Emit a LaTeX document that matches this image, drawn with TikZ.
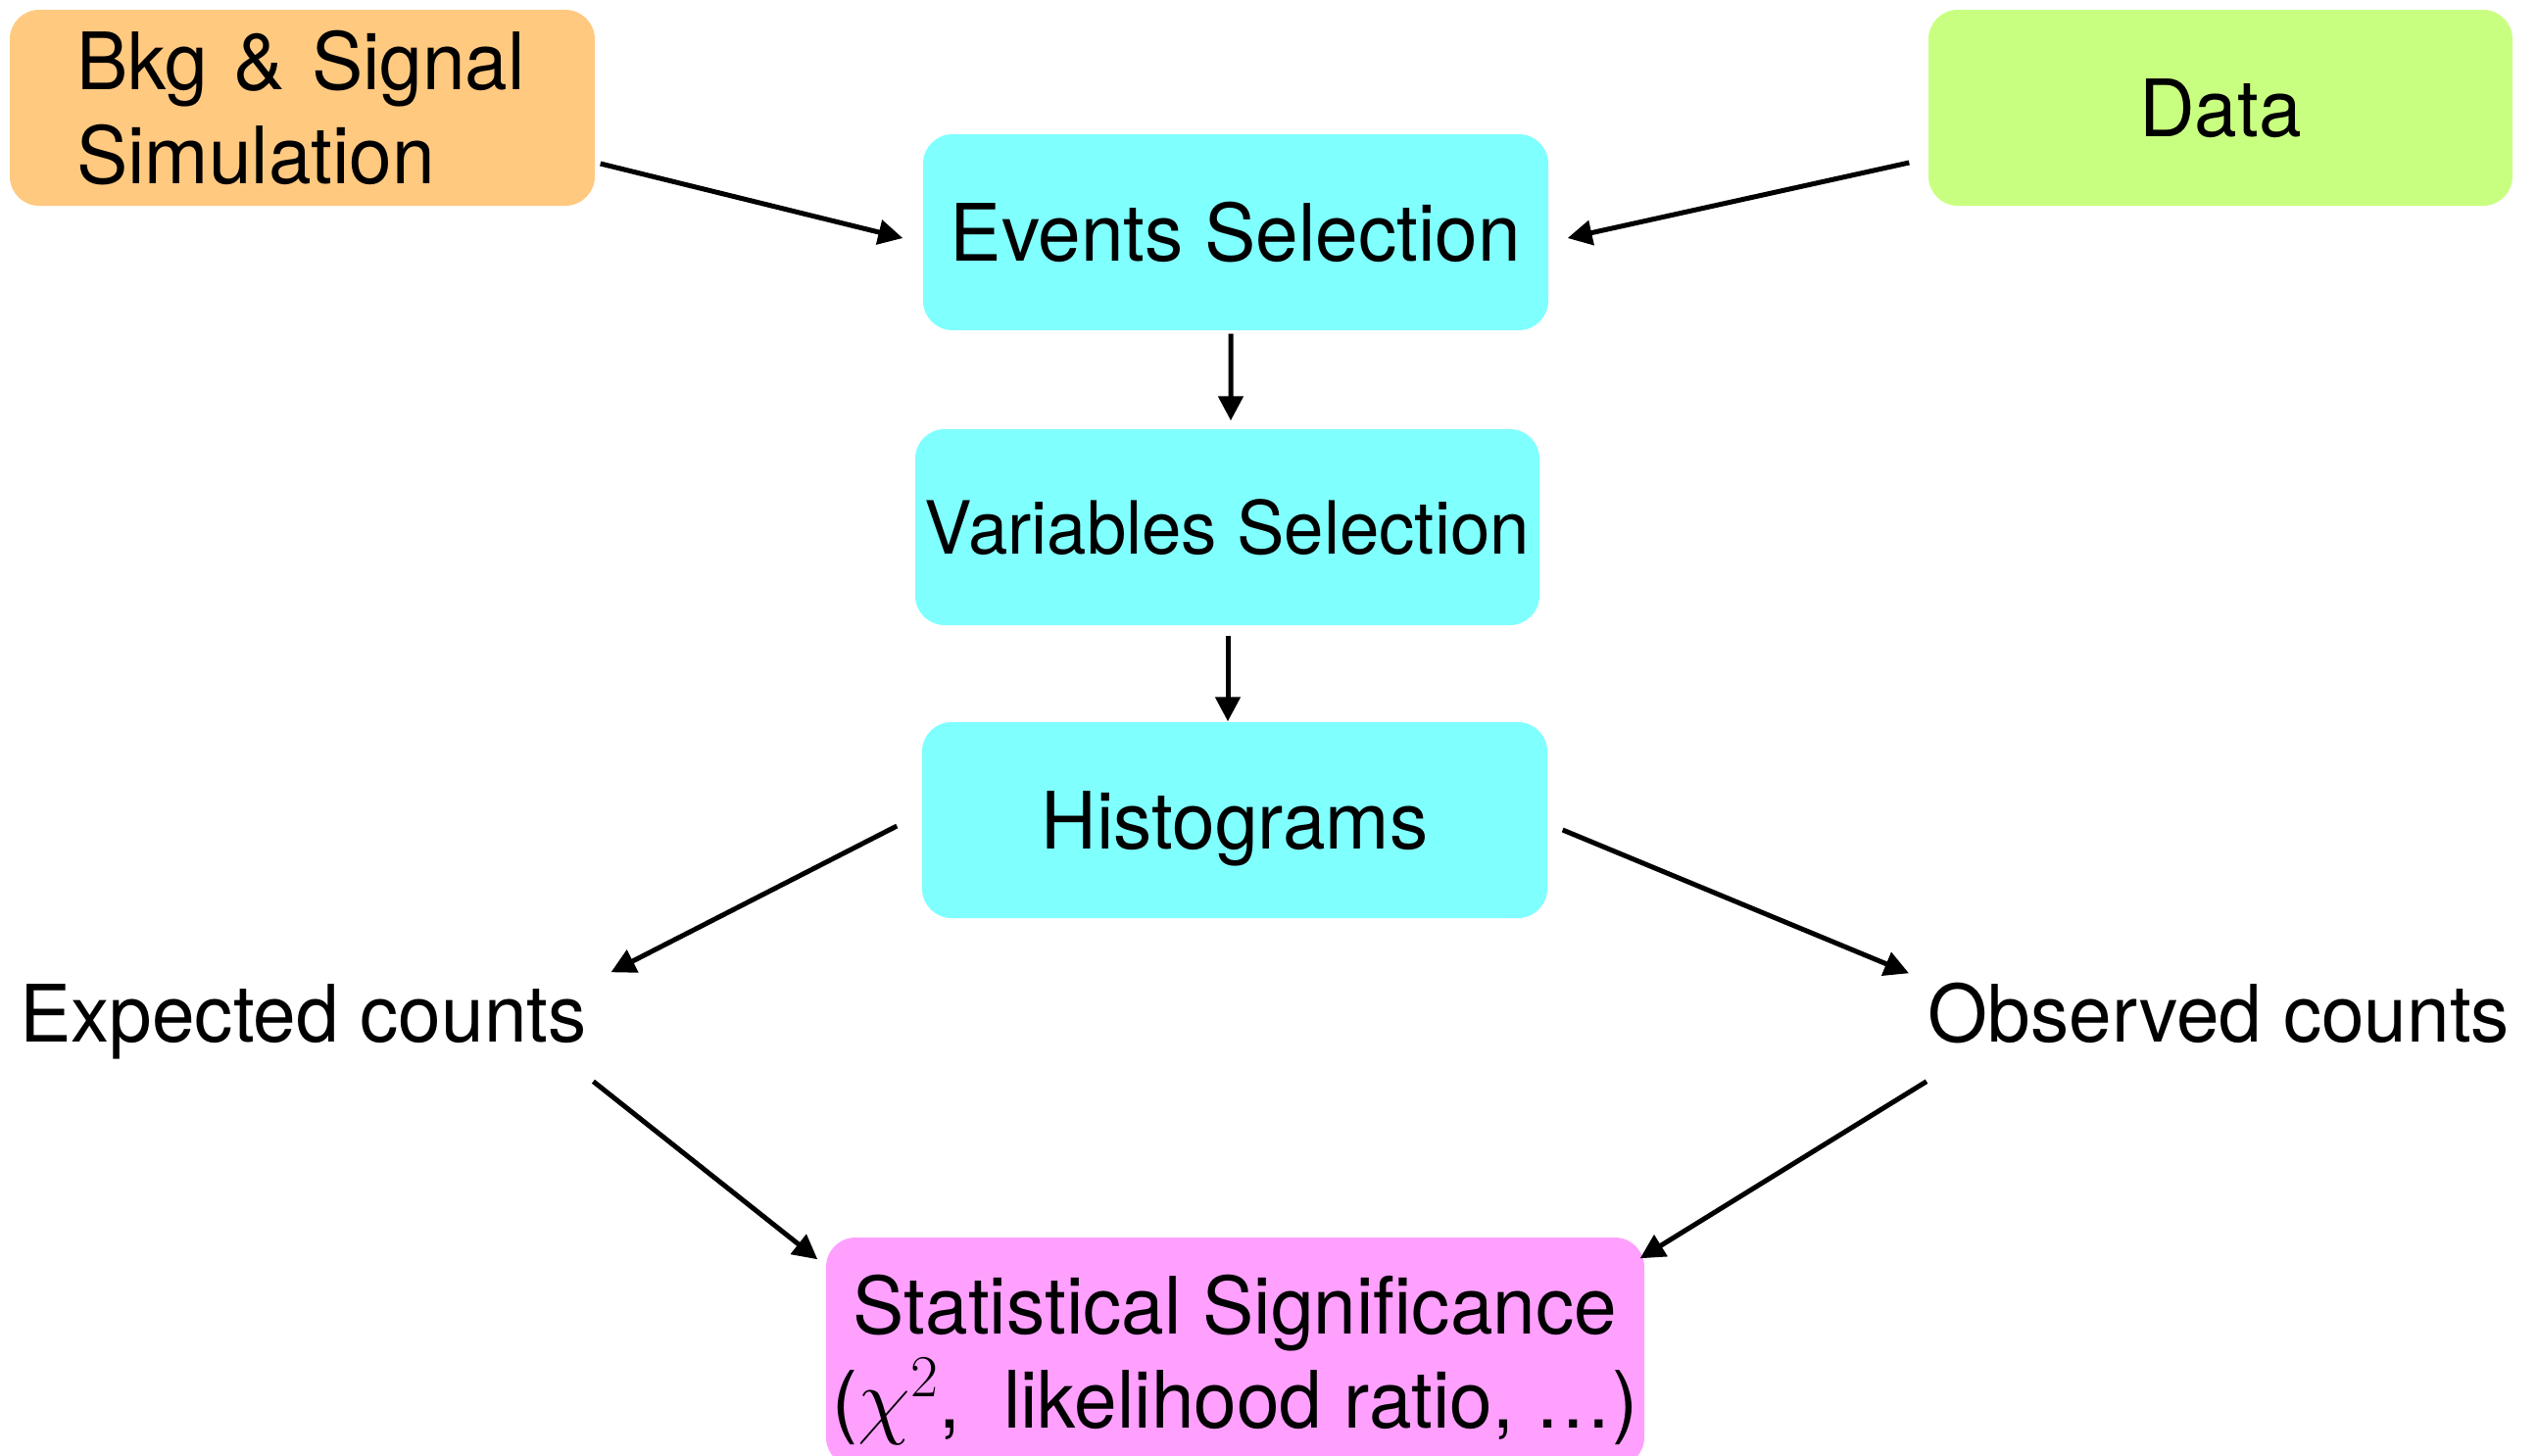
\documentclass[tikz,border=0pt]{standalone}
\usepackage[no-math]{fontspec}
\setmainfont{TeX Gyre Heros}[FakeStretch=0.97]
\usetikzlibrary{arrows.meta}

\definecolor{simorange}{RGB}{255,201,128}
\definecolor{datagreen}{RGB}{201,255,128}
\definecolor{stepcyan}{RGB}{128,255,255}
\definecolor{statpink}{RGB}{255,160,255}

\begin{document}
\begin{tikzpicture}[
  mainfont/.style={font={\fontsize{23pt}{27.3pt}\selectfont}},
  box/.style={rectangle, rounded corners=0.3cm, inner sep=0pt,
    minimum height=2cm, text height=0.58cm, text depth=0pt, mainfont},
  plain/.style={inner sep=0pt, text height=0.58cm, text depth=0pt, mainfont},
  arr/.style={-{Triangle[length=0.25cm,width=0.25cm]}, line width=0.05cm}
]
\useasboundingbox (0,0) rectangle (25.88,-14.86);
\clip (0,0) rectangle (25.88,-14.86);

% sources
\node[box, fill=simorange, minimum width=5.97cm, text width=4.61cm,
  inner xsep=0.68cm, align=left, text height=0.59cm, text depth=0.96cm]
  (bkg) at (3.085,-1.10) {Bkg \& Signal\\Simulation};
\node[box, fill=datagreen, minimum width=5.96cm] (data) at (22.66,-1.10) {Data};

% processing chain
\node[box, fill=stepcyan, minimum width=6.38cm] (ev) at (12.61,-2.37) {Events Selection};
\node[box, fill=stepcyan, minimum width=6.37cm, text height=0.54cm,
  font={\fontsize{21.3pt}{25.5pt}\selectfont}]
  (var) at (12.525,-5.38) {Variables Selection\hspace{0.11cm}};
\node[box, fill=stepcyan, minimum width=6.38cm] (hist) at (12.60,-8.37) {Histograms\hspace{0.14cm}};

% counts
\node[plain] (exp) at (3.095,-10.34) {Expected counts};
\node[plain] (obs) at (22.645,-10.34) {Observed counts};

% result
\node[box, fill=statpink, minimum width=8.35cm, minimum height=2.34cm,
  align=center, text height=1.54cm, text depth=0pt]
  (stat) at (12.605,-13.80) {Statistical Significance\\($\chi^2$,\ \ likelihood ratio, …)};

% connectors
\draw[arr] ([shift={(0.05,-0.57)}]bkg.east) -- ([shift={(-0.20,-0.06)}]ev.west);
\draw[arr] ([shift={(-0.19,-0.56)}]data.west) -- ([shift={(0.19,-0.06)}]ev.east);
\draw[arr] ([shift={(-0.05,-0.03)}]ev.south) -- ([shift={(0.035,0.08)}]var.north);
\draw[arr] ([shift={(0.005,-0.10)}]var.south) -- ([shift={(-0.07,0)}]hist.north);
\draw[arr] ([shift={(-0.25,-0.06)}]hist.west) -- ([shift={(0.24,0.12)}]exp.north east);
\draw[arr] ([shift={(0.15,-0.10)}]hist.east) -- ([shift={(-0.19,0.11)}]obs.north west);
\draw[arr] ([shift={(0.06,-0.40)}]exp.south east) -- ([shift={(-0.08,-0.23)}]stat.north west);
\draw[arr] ([shift={(-0.01,-0.40)}]obs.south west) -- ([shift={(-0.05,-0.22)}]stat.north east);
\end{tikzpicture}
\end{document}
